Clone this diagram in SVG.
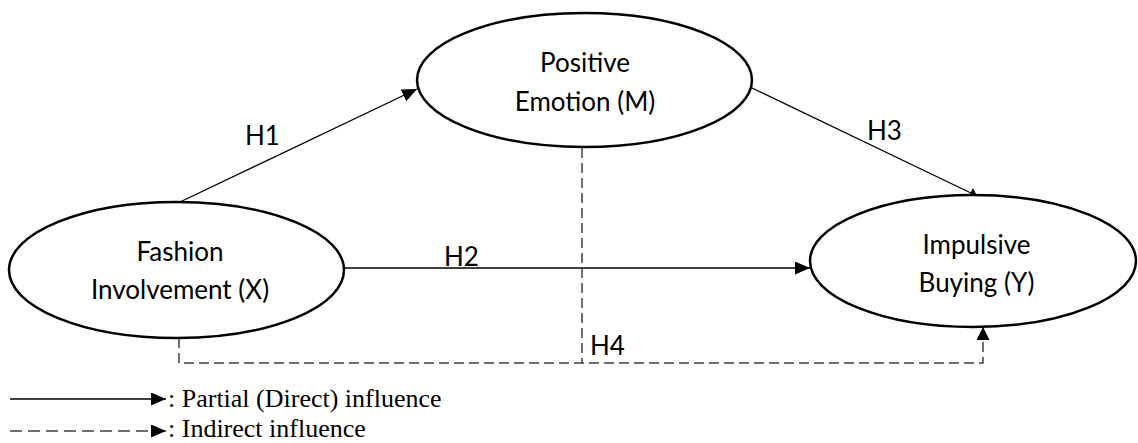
<svg xmlns="http://www.w3.org/2000/svg" width="1138" height="443" viewBox="0 0 1138 443">
<style>
.node{fill:#fff;stroke:#000;stroke-width:2.5}
.lbl{font-family:Lato,"Open Sans",sans-serif;font-size:26px;fill:#000;text-anchor:middle}
.h{font-family:Lato,"Open Sans",sans-serif;font-size:26px;fill:#000}
.solid{fill:none;stroke:#000;stroke-width:1.3}
.dash{fill:none;stroke:#404040;stroke-width:1.5;stroke-dasharray:10 5}
.dashL{fill:none;stroke:#404040;stroke-width:1.5;stroke-dasharray:12 6}
.leg{font-family:"Liberation Serif","Times New Roman",serif;font-size:26px;fill:#000}
</style>
<defs>
<marker id="arr" markerUnits="userSpaceOnUse" markerWidth="16" markerHeight="14" refX="15" refY="6.5" orient="auto">
<path d="M0,0 L15,6.5 L0,13 z" fill="#000"/>
</marker>
<marker id="arrUp" markerUnits="userSpaceOnUse" markerWidth="16" markerHeight="14" refX="7" refY="6.5" orient="270">
<path d="M0,0 L13,6.5 L0,13 z" fill="#000"/>
</marker>
<marker id="arrUpTip" markerUnits="userSpaceOnUse" markerWidth="16" markerHeight="14" refX="13" refY="6.5" orient="270">
<path d="M0,0 L13,6.5 L0,13 z" fill="#000"/>
</marker>
</defs>
<g id="connectors">
<path class="solid" d="M180,202 L417,89" marker-end="url(#arr)"/>
<path class="solid" d="M752,88 L973,194" marker-end="url(#arrUp)"/>
<path class="solid" d="M344,268 L810,268" marker-end="url(#arr)"/>
<path class="dash" d="M582,148 V363"/>
<path class="dash" d="M179,338 V363 H983 V327" marker-end="url(#arrUpTip)"/>
<text class="h" x="245" y="145">H1</text>
<text class="h" x="444" y="266">H2</text>
<text class="h" x="867" y="140">H3</text>
<text class="h" x="590" y="355">H4</text>
</g>
<g id="positive-emotion">
<ellipse class="node" cx="584.5" cy="80" rx="167.5" ry="67"/>
<text class="lbl" x="585" y="72">Positive</text>
<text class="lbl" x="585" y="111">Emotion (M)</text>
</g>
<g id="fashion-involvement">
<ellipse class="node" cx="176.5" cy="270" rx="167.5" ry="68"/>
<text class="lbl" x="180" y="261">Fashion</text>
<text class="lbl" x="180" y="299">Involvement (X)</text>
</g>
<g id="impulsive-buying">
<ellipse class="node" cx="973" cy="261" rx="163" ry="66"/>
<text class="lbl" x="976.5" y="254">Impulsive</text>
<text class="lbl" x="976.5" y="292">Buying (Y)</text>
</g>
<g id="legend">
<path class="solid" d="M10,399 H166" marker-end="url(#arr)"/>
<path class="dashL" d="M10,431 H166" marker-end="url(#arr)"/>
<text class="leg" x="168" y="407">: Partial (Direct) influence</text>
<text class="leg" x="168" y="437">: Indirect influence</text>
</g>
</svg>
